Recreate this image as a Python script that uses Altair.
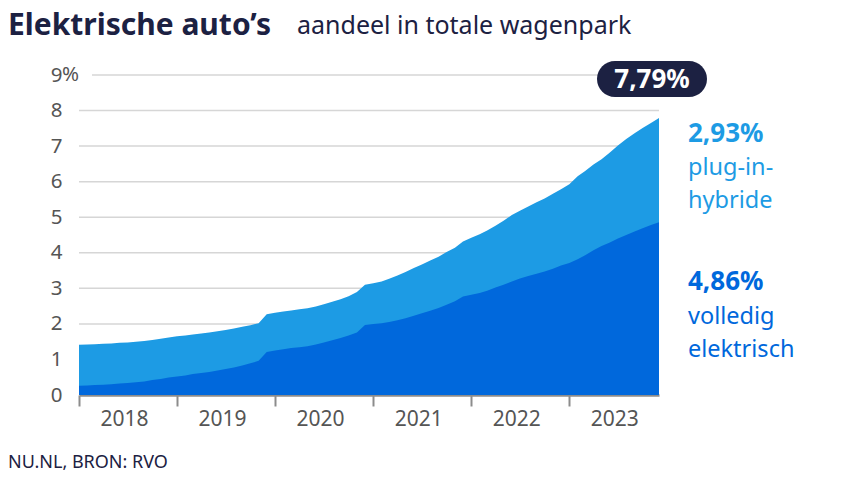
import altair as alt
import pandas as pd

FONT = "Noto Sans"
NAVY = "#1c2142"
LIGHT = "#1d9be4"
DARK = "#0068dc"
GRAY = "#555555"

# ---- data (share of total car fleet, %) ----
months = pd.date_range("2018-01-01", periods=72, freq="MS")
total = [
    1.41, 1.42, 1.43, 1.44, 1.45, 1.47, 1.48, 1.50, 1.52, 1.55, 1.58, 1.62,
    1.65, 1.67, 1.70, 1.73, 1.76, 1.79, 1.83, 1.87, 1.92, 1.96, 2.02, 2.27,
    2.31, 2.35, 2.38, 2.41, 2.44, 2.49, 2.55, 2.62, 2.69, 2.78, 2.90, 3.10,
    3.14, 3.19, 3.27, 3.36, 3.46, 3.57, 3.67, 3.78, 3.89, 4.02, 4.14, 4.32,
    4.42, 4.52, 4.63, 4.76, 4.90, 5.06, 5.18, 5.30, 5.42, 5.53, 5.66, 5.79,
    5.93, 6.15, 6.30, 6.48, 6.63, 6.82, 7.02, 7.20, 7.36, 7.51, 7.65, 7.79,
]
bev = [
    0.26, 0.27, 0.28, 0.29, 0.30, 0.32, 0.34, 0.36, 0.38, 0.42, 0.45, 0.49,
    0.52, 0.55, 0.59, 0.62, 0.65, 0.69, 0.73, 0.77, 0.83, 0.89, 0.96, 1.21,
    1.25, 1.29, 1.32, 1.34, 1.37, 1.42, 1.48, 1.54, 1.60, 1.67, 1.76, 1.97,
    2.00, 2.02, 2.05, 2.10, 2.16, 2.23, 2.30, 2.37, 2.45, 2.54, 2.64, 2.77,
    2.82, 2.87, 2.93, 3.02, 3.10, 3.19, 3.28, 3.35, 3.41, 3.47, 3.55, 3.64,
    3.71, 3.82, 3.93, 4.07, 4.19, 4.29, 4.40, 4.50, 4.60, 4.69, 4.78, 4.86,
]
years = [2018, 2019, 2020, 2021, 2022, 2023]
y_ticks = [0, 1, 2, 3, 4, 5, 6, 7, 8, 9]
grid_vals = [1, 2, 3, 4, 5, 6, 7, 8]

df = pd.DataFrame({"month": months, "total": total, "bev": bev})

def pct(v):
    return f"{v:.2f}".replace(".", ",") + "%"

last_total = total[-1]
last_bev = bev[-1]
last_phev = last_total - last_bev

W, H = 580, 320

xscale = alt.Scale(domain=[alt.DateTime(year=2018, month=1, date=1),
                           alt.DateTime(year=2023, month=12, date=1)])
yscale = alt.Scale(domain=[0, 9], nice=False)

xaxis = alt.Axis(
    values=[alt.DateTime(year=y, month=1, date=1) for y in years],
    format="%Y", title=None, grid=False,
    domainColor="#8c8c8c", domainWidth=2.5,
    tickColor="#8c8c8c", tickWidth=2, tickSize=11,
    labelFont=FONT, labelFontSize=21, labelColor=GRAY,
    labelOffset=45, labelPadding=2, labelFlush=False,
)
yaxis = alt.Axis(
    values=y_ticks, title=None, grid=False, domain=False, ticks=False,
    labelFont=FONT, labelFontSize=20.5, labelColor=GRAY, labelPadding=17,
    labelOverlap=False,
)

base = alt.Chart(df)

grid = alt.Chart(pd.DataFrame({"v": grid_vals})).mark_rule(
    color="#d6d6d6", strokeWidth=1.5
).encode(y=alt.Y("v:Q", scale=yscale, axis=yaxis))

grid9 = alt.Chart(pd.DataFrame({"v": [9]})).mark_rule(
    color="#d6d6d6", strokeWidth=1.5
).encode(y=alt.Y("v:Q", scale=yscale, axis=yaxis), x=alt.value(13), x2=alt.value(W))

area_total = base.mark_area(color=LIGHT, opacity=1).encode(
    x=alt.X("month:T", scale=xscale, axis=xaxis),
    y=alt.Y("total:Q", scale=yscale, axis=yaxis),
)
area_bev = base.mark_area(color=DARK, opacity=1).encode(
    x=alt.X("month:T", scale=xscale, axis=xaxis),
    y=alt.Y("bev:Q", scale=yscale, axis=yaxis),
)

pct_sign = alt.Chart(pd.DataFrame({"t": ["%"]})).mark_text(
    align="left", baseline="middle", font=FONT, fontSize=20.5, color=GRAY
).encode(x=alt.value(-17), y=alt.datum(9, scale=yscale, axis=yaxis), text="t:N")


def label(text, x, y, size, color, weight="normal", align="left", baseline="alphabetic"):
    return alt.Chart(pd.DataFrame({"t": [text]})).mark_text(
        align=align, baseline=baseline, font=FONT, fontSize=size,
        fontWeight=weight, color=color
    ).encode(x=alt.value(x), y=alt.value(y), text="t:N")


badge = alt.Chart(pd.DataFrame({"a": [0]})).mark_rect(
    cornerRadius=18, color=NAVY
).encode(x=alt.value(518), x2=alt.value(628), y=alt.value(-14), y2=alt.value(22))

texts = [
    label("Elektrische auto’s", -71, -40, 30, NAVY, "bold"),
    label("aandeel in totale wagenpark", 218, -41, 25, NAVY),
    label("NU.NL, BRON: RVO", -71, 393, 18, NAVY),
    label(pct(last_total), 573, 5, 26, "white", "bold", "center", "middle"),
    label(pct(last_phev), 609, 67, 26, LIGHT, "bold"),
    label("plug-in-", 609, 100, 23.5, LIGHT),
    label("hybride", 609, 133, 23.5, LIGHT),
    label(pct(last_bev), 609, 215, 26, DARK, "bold"),
    label("volledig", 609, 249, 23.5, DARK),
    label("elektrisch", 609, 282, 23.5, DARK),
]

chart = alt.layer(grid, grid9, area_total, area_bev, pct_sign, badge, *texts).properties(
    width=W, height=H,
    padding={"left": 71, "top": 67, "right": 187, "bottom": 77},
    autosize=alt.AutoSizeParams(type="none"),
    background="white",
).configure_view(stroke=None)

chart.save("out.html", embed_options={"renderer": "svg", "actions": False})
